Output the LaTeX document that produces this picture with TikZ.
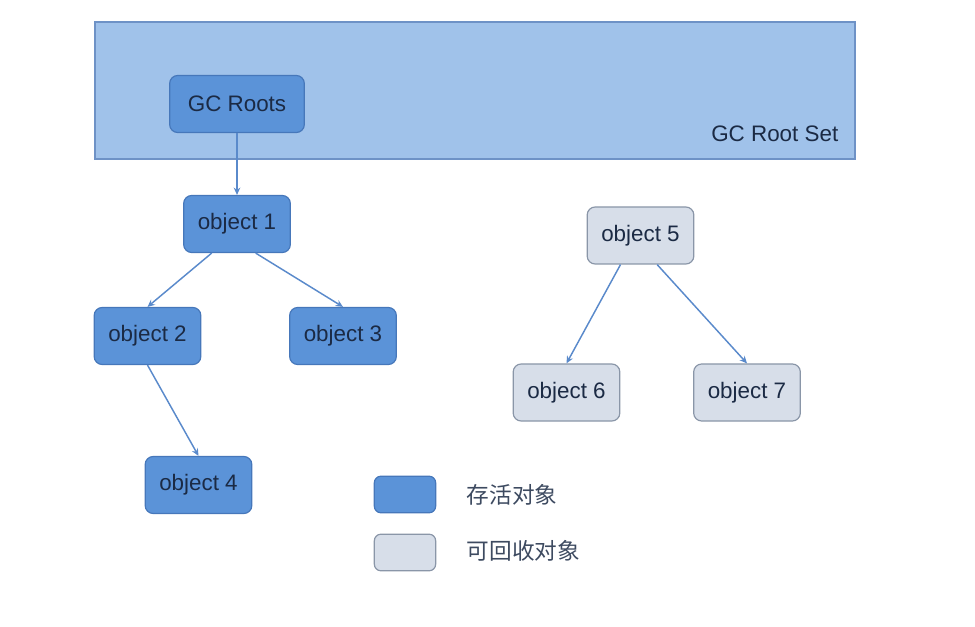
\documentclass[tikz,border=0pt]{standalone}
\usepackage{fontspec}
\setmainfont{Liberation Sans}
\newfontfamily\cjk{Noto Sans CJK SC}
\usetikzlibrary{arrows.meta}

\definecolor{setfill}{HTML}{A0C2EA}
\definecolor{setdraw}{HTML}{6E92C6}
\definecolor{livefill}{HTML}{5B93D8}
\definecolor{livedraw}{HTML}{4677BA}
\definecolor{deadfill}{HTML}{D7DEE9}
\definecolor{deaddraw}{HTML}{8A96A8}
\definecolor{linkcol}{HTML}{5A8ACB}
\definecolor{txt}{HTML}{1B2A44}

\begin{document}
\begin{tikzpicture}[x=0.75pt,y=-0.75pt,
  obj/.style={rounded corners=6pt,line width=0.9pt,minimum width=80pt,minimum height=42.75pt,
    text=txt,font=\fontsize{16.8}{19}\selectfont},
  live/.style={obj,draw=livedraw,fill=livefill},
  dead/.style={obj,draw=deaddraw,fill=deadfill},
  key/.style={rounded corners=5pt,line width=0.9pt,minimum width=46pt,minimum height=27.5pt},
  link/.style={linkcol,line width=1.1pt,-{Stealth[length=5.5pt,width=5pt]}}]
\useasboundingbox (0,0) rectangle (975,627);

% root set
\draw[setdraw,fill=setfill,line width=1pt] (95,22) rectangle (855,159);
\node[text=txt,anchor=east,font=\fontsize{16.8}{19}\selectfont] (rootset) at (843,134) {GC Root Set};
\node[live,minimum width=101pt] (roots) at (237,104) {GC Roots};

% reachable
\node[live] (o1) at (237,224) {object 1};
\node[live] (o2) at (147.5,336) {object 2};
\node[live] (o3) at (343,336) {object 3};
\node[live] (o4) at (198.5,485) {object 4};

% unreachable
\node[dead] (o5) at (640.5,235.5) {object 5};
\node[dead] (o6) at (566.5,392.5) {object 6};
\node[dead] (o7) at (747,392.5) {object 7};

\draw[link] (roots.south) -- (o1.north);
\draw[link] ([xshift=-19pt]o1.south) -- (o2.north);
\draw[link] ([xshift=14pt]o1.south) -- (o3.north);
\draw[link] (o2.south) -- (o4.north);
\draw[link] ([xshift=-15pt]o5.south) -- (o6.north);
\draw[link] ([xshift=12.5pt]o5.south) -- (o7.north);

% legend
\node[key,draw=livedraw,fill=livefill] (klive) at (405,494.5) {};
\node[key,draw=deaddraw,fill=deadfill] (kdead) at (405,552.5) {};
\node[anchor=west,text=txt!85,font=\cjk\fontsize{17}{20}\selectfont] (tlive) at (462,495) {存活对象};
\node[anchor=west,text=txt!85,font=\cjk\fontsize{17}{20}\selectfont] (tdead) at (462,551) {可回收对象};

\end{tikzpicture}
\end{document}
